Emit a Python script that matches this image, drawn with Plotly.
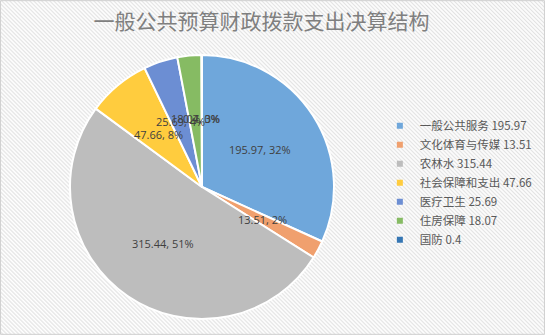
import base64
import math
import plotly.graph_objects as go

# 一般公共预算财政拨款支出决算结构
categories = ["一般公共服务", "文化体育与传媒", "农林水", "社会保障和支出", "医疗卫生", "住房保障", "国防"]
values = [195.97, 13.51, 315.44, 47.66, 25.69, 18.07, 0.4]
colors = ["#6FA7DB", "#F0A06E", "#BDBDBD", "#FFCC3E", "#6C8ED3", "#86BB63", "#3576B3"]
title_text = "一般公共预算财政拨款支出决算结构"

W, H = 545, 335

# diagonal hatch background as an inline svg pattern
svg = (
    f'<svg xmlns="http://www.w3.org/2000/svg" width="{W}" height="{H}">'
    '<defs><pattern id="p" width="2.83" height="10" patternUnits="userSpaceOnUse" '
    'patternTransform="rotate(-45)"><rect width="1.2" height="10" fill="#e2e2e2"/></pattern></defs>'
    f'<rect width="{W}" height="{H}" fill="#ffffff"/>'
    f'<rect width="{W}" height="{H}" fill="url(#p)"/>'
    '</svg>'
)
bg_uri = "data:image/svg+xml;base64," + base64.b64encode(svg.encode()).decode()

cx, cy, r = 202, 187, 132
dom_x = [(cx - r) / W, (cx + r) / W]
dom_y = [(H - cy - r) / H, (H - cy + r) / H]

fig = go.Figure()
fig.add_trace(go.Pie(
    labels=categories,
    values=values,
    sort=False,
    direction="clockwise",
    rotation=0,
    marker=dict(colors=colors, line=dict(color="#ffffff", width=2)),
    textinfo="none",
    domain=dict(x=dom_x, y=dom_y),
    showlegend=False,
    hoverinfo="skip",
))

# data labels: "value, percent" at half radius along each slice's mid angle
total = sum(values)
annotations = []
start = 0.0
for v in values:
    frac = v / total
    mid = (start + frac / 2) * 2 * math.pi
    start += frac
    lx = cx + 0.52 * r * math.sin(mid)
    ly = cy - 0.52 * r * math.cos(mid)
    annotations.append(dict(
        x=lx / W, y=(H - ly) / H, xref="paper", yref="paper",
        text=f"{v}, {round(frac * 100)}%", showarrow=False,
        font=dict(family="Open Sans, Noto Sans CJK SC", size=11, color="#404040"),
        xanchor="center", yanchor="middle",
    ))

# legend entries with small square keys
for name, v, c in zip(categories, values, colors):
    fig.add_trace(go.Scatter(
        x=[None], y=[None], mode="markers",
        marker=dict(symbol="square", size=6, color=c),
        name=f"{name} {v}",
        showlegend=True,
    ))

fig.update_layout(
    width=W, height=H,
    margin=dict(l=0, r=0, t=0, b=0),
    paper_bgcolor="rgba(0,0,0,0)",
    plot_bgcolor="rgba(0,0,0,0)",
    xaxis=dict(visible=False),
    yaxis=dict(visible=False),
    annotations=annotations,
    title=dict(
        text=title_text, x=0.48, xanchor="center", y=0.935, yanchor="middle",
        font=dict(family="Noto Sans CJK SC", size=21, color="#7f7f7f"),
    ),
    legend=dict(
        x=0.697, y=0.668, xanchor="left", yanchor="top",
        bgcolor="rgba(0,0,0,0)",
        font=dict(family="Noto Sans CJK SC", size=11.5, color="#595959"),
        itemwidth=30, tracegroupgap=0,
    ),
    images=[dict(
        source=bg_uri, xref="paper", yref="paper", x=0, y=1,
        sizex=1, sizey=1, xanchor="left", yanchor="top",
        sizing="stretch", layer="below",
    )],
    shapes=[dict(
        type="rect", xref="paper", yref="paper", x0=0.001, y0=0.002, x1=0.999, y1=0.998,
        line=dict(color="#d0d0d0", width=1),
    )],
)

fig.write_html("out.html")
